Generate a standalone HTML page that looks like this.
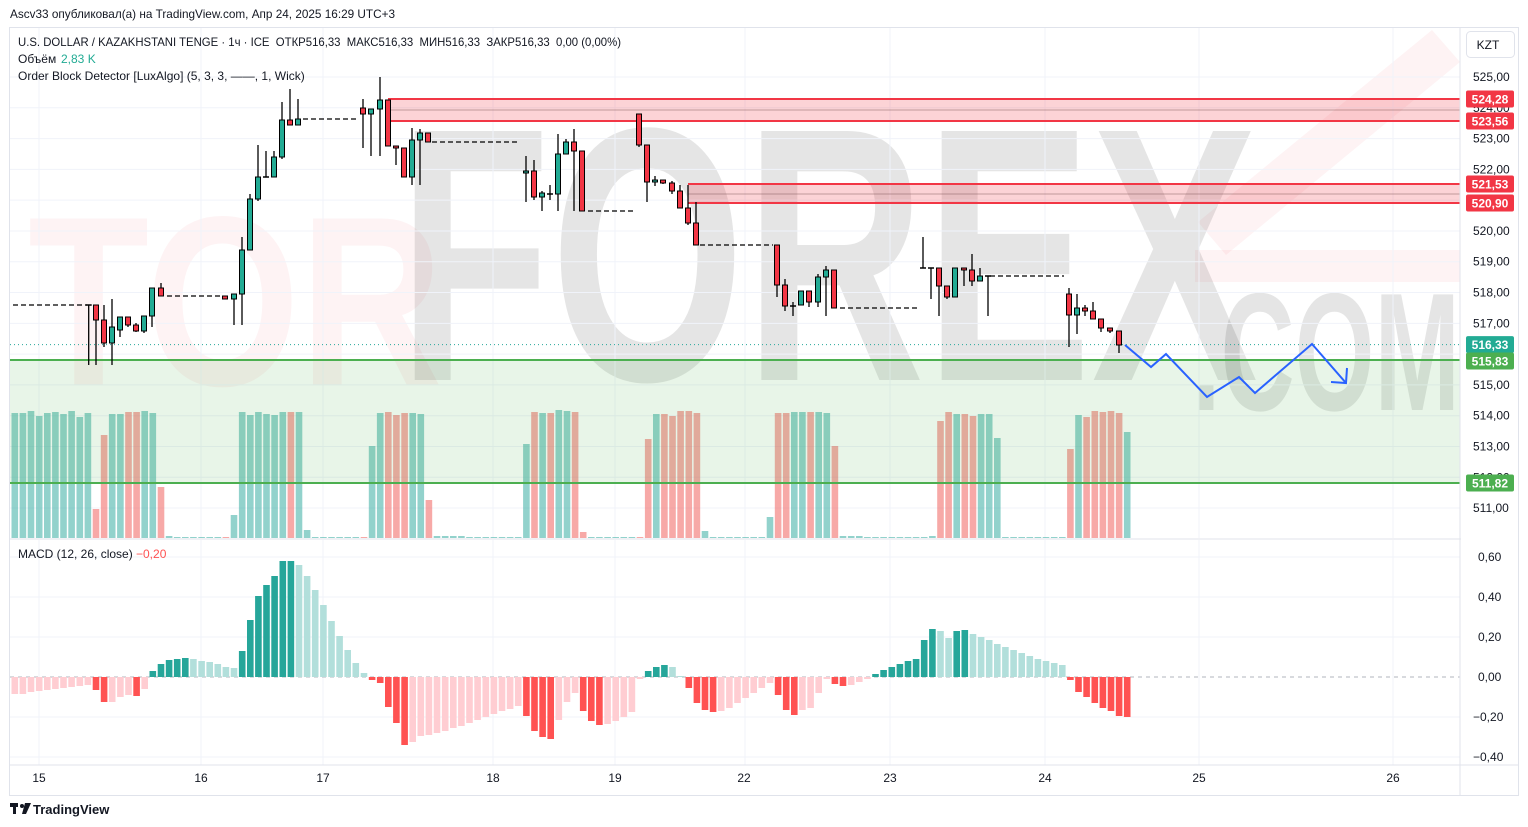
<!DOCTYPE html>
<html><head><meta charset="utf-8">
<style>
html,body{margin:0;padding:0;background:#fff;}
body{width:1528px;height:827px;overflow:hidden;position:relative;font-family:"Liberation Sans",sans-serif;}
svg{position:absolute;left:0;top:0;}
</style></head>
<body>
<svg id="c" width="1528" height="827" viewBox="0 0 1528 827" xmlns="http://www.w3.org/2000/svg" font-family="Liberation Sans, sans-serif"></svg>
<script>
var s='';
function R(x,y,w,h,f,extra){s+='<rect x="'+x+'" y="'+y+'" width="'+w+'" height="'+h+'" fill="'+f+'" '+(extra||'')+'/>';}
function L(x1,y1,x2,y2,c,w,extra){s+='<line x1="'+x1+'" y1="'+y1+'" x2="'+x2+'" y2="'+y2+'" stroke="'+c+'" stroke-width="'+w+'" '+(extra||'')+'/>';}
function T(x,y,t,sz,f,extra){s+='<text x="'+x+'" y="'+y+'" font-size="'+sz+'" fill="'+f+'" '+(extra||'')+'>'+t+'</text>';}
R(9.5,27.5,1509,768,'#fff','stroke="#e0e3eb" stroke-width="1"');
// watermark
s+='<path d="M1195 250 L1460 250 L1460 282 L1195 282 Z" fill="rgba(242,54,69,0.06)"/>';
s+='<path d="M1198 222 L1432 30 L1460 62 L1226 255 Z" fill="rgba(242,54,69,0.06)"/>';
T(28,385,'TOR',242,'rgba(242,54,69,0.06)','font-weight="bold" textLength="415" lengthAdjust="spacingAndGlyphs"');
T(398,380,'FOREX',362,'rgba(0,0,0,0.10)','font-weight="bold" textLength="860" lengthAdjust="spacingAndGlyphs"');
T(1192,410,'.COM',168,'rgba(0,0,0,0.10)','font-weight="bold" textLength="268" lengthAdjust="spacingAndGlyphs"');
var days=[39,201,323,493,615,745,890,1045,1199,1393];
days.forEach(function(x){L(x,28,x,538,'#f0f3fa',1);L(x,540,x,765,'#f0f3fa',1);});
function py(p){return 77+(525-p)*30.79;}
for(var p=511;p<=525;p++){var y=py(p);L(10,y,1460,y,'#f0f3fa',1);}
[557,597,637,717,757].forEach(function(y){L(10,y,1460,y,'#f0f3fa',1);});
var V=[[125,'t'],[125,'t'],[127,'t'],[122,'t'],[125,'t'],[126,'t'],[124,'t'],[127,'t'],[121,'t'],[125,'t'],
[29,'r'],[103,'r'],[124,'t'],[124,'t'],[126,'r'],[126,'r'],[127,'t'],[125,'t'],[51,'r'],[2,'t'],
[1,'t'],[1,'t'],[1,'t'],[1,'t'],[1,'t'],[1,'t'],[1,'r'],[23,'t'],[126,'t'],[123,'t'],
[126,'t'],[124,'t'],[123,'t'],[126,'t'],[126,'r'],[126,'t'],[8,'t'],[1,'t'],[1,'t'],[1,'t'],
[1,'t'],[1,'t'],[1,'t'],[1,'r'],[92,'t'],[125,'t'],[126,'r'],[123,'r'],[125,'r'],[125,'t'],
[124,'t'],[38,'r'],[2,'t'],[2,'t'],[2,'t'],[2,'t'],[1,'t'],[1,'t'],[1,'t'],[1,'t'],
[1,'t'],[1,'t'],[1,'t'],[94,'t'],[126,'r'],[125,'t'],[125,'r'],[128,'t'],[127,'t'],[126,'r'],
[6,'r'],[1,'t'],[1,'t'],[1,'t'],[1,'t'],[1,'t'],[1,'t'],[1,'r'],[99,'r'],[124,'t'],
[124,'r'],[122,'r'],[127,'r'],[127,'r'],[125,'r'],[7,'t'],[1,'t'],[1,'t'],[1,'t'],[1,'t'],
[1,'t'],[1,'t'],[1,'t'],[21,'t'],[125,'r'],[125,'r'],[126,'t'],[126,'t'],[126,'r'],[126,'t'],
[125,'t'],[92,'r'],[2,'t'],[2,'t'],[2,'t'],[1,'t'],[1,'t'],[1,'t'],[1,'t'],[1,'t'],
[1,'t'],[1,'t'],[1,'t'],[2,'t'],[117,'r'],[126,'r'],[124,'t'],[124,'r'],[122,'r'],[124,'t'],
[124,'t'],[100,'t'],[1,'t'],[1,'t'],[1,'t'],[1,'t'],[1,'t'],[1,'t'],[1,'t'],[1,'t'],
[89,'r'],[123,'t'],[121,'r'],[127,'r'],[126,'r'],[127,'r'],[125,'r'],[106,'t']];
function bx(i){return 14.8+8.12*i;}
V.forEach(function(v,i){R((bx(i)-3.3).toFixed(1),(538-v[0]).toFixed(1),6.6,v[0],v[1]=='t'?'rgba(38,166,154,0.5)':'rgba(239,83,80,0.5)');});
R(10,360,1450,123,'rgba(76,175,80,0.13)');
L(10,360,1460,360,'#4caf50',2);L(10,483,1460,483,'#4caf50',2);
R(388,99,1072,22,'rgba(242,54,69,0.22)');L(388,110,1460,110,'rgba(120,80,80,0.45)',1);
L(388,99,1460,99,'#f23645',2);L(388,121,1460,121,'#f23645',2);
R(688,184,772,19,'rgba(242,54,69,0.22)');L(688,194,1460,194,'rgba(120,80,80,0.45)',1);
L(688,184,1460,184,'#f23645',2);L(688,203,1460,203,'#f23645',2);
L(10,344.6,1460,344.6,'#26a69a',1,'stroke-dasharray="1 3"');
[[13,87,305],[167,222,296],[303,358,119],[432,520,142],[588,634,211],[700,773,245],[840,918,308],[990,1064,276]].forEach(function(d){L(d[0],d[2],d[1],d[2],'#000',1.3,'stroke-dasharray="5 3"');});
var C=[[88.7,305,305,305,365,'d'],[96,305,320,305,365,'r'],[104,320,343,305,347,'r'],[112,327,343,299,365,'g'],[120,317,330,317,337,'g'],[128,317,325,317,327,'r'],[136,325,331,323,332,'r'],[144,316,331,316,333,'g'],[152,288,316,288,327,'g'],[161,288,296,283,296,'r'],
[225,296,299,296,299,'r'],[234,294,299,294,325,'g'],[242,250,294,237,325,'g'],[250,199,250,194,250,'g'],[258,177,199,145,201,'g'],[266,177,177,151,177,'d'],[274,157,177,151,177,'g'],[282,120,157,102,159,'g'],[290,120,125,89,125,'r'],[298,119,125,99,125,'g'],
[363,108,114,99,148,'r'],[371,109,114,109,156,'g'],[380,100,109,77,156,'g'],[388,100,146,100,146,'r'],[396,146,148,146,165,'r'],[404,148,177,148,177,'r'],[412,140,177,128,185,'g'],[420,133,140,129,185,'g'],[428,133,142,133,142,'r'],
[526,171,173,156,202,'g'],[534,171,197,160,200,'r'],[542,193,197,191,211,'g'],[550,194,194,185,200,'d'],[558,154,194,134,211,'g'],[566,142,154,139,154,'g'],[574,142,151,129,211,'r'],[582,151,211,151,211,'r'],
[639,114,145,114,147,'r'],[647,145,182,145,202,'r'],[655,180,182,176,186,'g'],[663,180,183,180,184,'r'],[672,183,191,181,194,'r'],[680,191,208,185,208,'r'],[688,208,223,185,225,'r'],[696,223,245,202,245,'r'],
[777,245,285,245,297,'r'],[785,285,306,279,311,'r'],[793,306,306,302,316,'d'],[801,291,305,291,305,'g'],[809,291,302,291,307,'r'],[818,277,302,274,307,'g'],[826,270,277,266,316,'g'],[834,270,308,270,308,'r'],
[923,268,268,237,268,'d'],[931,268,268,268,299,'d'],[939,268,286,268,316,'r'],[947,286,297,286,299,'r'],[955,268,297,268,297,'g'],[964,268,270,268,286,'r'],[972,270,281,254,286,'r'],[980,276,281,268,281,'g'],[988,276,276,276,316,'d'],
[1069,294,315,288,347,'r'],[1077,308,315,294,334,'g'],[1085,308,311,305,316,'r'],[1093,311,319,302,319,'r'],[1101,319,328,319,332,'r'],[1110,328,331,328,333,'r'],[1119,331,345,331,353,'r']];
C.forEach(function(c){
 L(c[0],c[3],c[0],c[4],'#000',1.3);
 if(c[5]=='d'){L(c[0]-3,c[1],c[0]+3,c[1],'#000',1.5);}
 else{R(c[0]-2.5,c[1],5,Math.max(c[2]-c[1],2),c[5]=='g'?'#22ab94':'#f23645','stroke="#000" stroke-width="1"');}
});
s+='<polyline points="1125,345 1151,367 1166,354 1207,397 1239,377 1255,393 1312,344 1346,383" fill="none" stroke="#2962ff" stroke-width="2"/>';
s+='<polyline points="1331,382 1346,383 1347,368" fill="none" stroke="#2962ff" stroke-width="2"/>';
L(10,539,1518,539,'#e0e3eb',1);
var M=[[-17,'P'],[-17,'P'],[-15,'P'],[-14,'P'],[-13,'P'],[-12,'P'],[-11,'P'],[-10,'P'],[-9,'P'],[-8,'P'],[-13,'R'],[-25,'R'],[-25,'P'],[-20,'P'],[-18,'P'],[-19,'R'],[-12,'P'],[6,'D'],[13,'D'],[17,'D'],[18,'D'],[19,'D'],[18,'L'],[16,'L'],[15,'L'],[13,'L'],[10,'L'],[9,'L'],[26,'D'],[57,'D'],[81,'D'],[92,'D'],[101,'D'],[116,'D'],[116,'D'],[112,'L'],[101,'L'],[87,'L'],[72,'L'],[56,'L'],[41,'L'],[27,'L'],[14,'L'],[4,'L'],[-3,'R'],[-6,'R'],[-30,'R'],[-46,'R'],[-68,'R'],[-65,'P'],[-59,'P'],[-58,'P'],[-56,'P'],[-54,'P'],[-51,'P'],[-49,'P'],[-46,'P'],[-43,'P'],[-40,'P'],[-37,'P'],[-34,'P'],[-32,'P'],[-29,'P'],[-39,'R'],[-54,'R'],[-60,'R'],[-62,'R'],[-43,'P'],[-25,'P'],[-16,'P']];
var M2=[-34,-44,-48,-47,-44,-40,-35,-2,6,10,12,10,1,-11,-26,-33,-35,-34,-31,-26,-21,-16,-11,-6,-18,-33,-38,-33,-31,-16,-2,-7,-9,-8,-5,-2,3,7,10,13,16,18,37,48,46,39,46,47,43,40,37,33,30,27,24,21,18,16,14,12,-3,-15,-20,-26,-31,-34,-39,-40];
var C2='RRR'+'PPPP'+'P'+'DDD'+'LL'+'RRRR'+'PPPPPPP'+'RRR'+'PPPP'+'RR'+'PPP'+'DDDDDDDD'+'LL'+'DD'+'LLLLLLLLLLLL'+'RRRRRRRR';
M2.forEach(function(v,k){M.push([v,C2[k]||'R']);});
var col={D:'#26a69a',L:'#b2dfdb',R:'#ff5252',P:'#ffcdd2'};
L(10,677,1460,677,'#b2b5be',1,'stroke-dasharray="4 4"');
M.forEach(function(m,i){var h=Math.abs(m[0]);var y=m[0]>0?677-h:677;R((bx(i)-3.3).toFixed(1),y,6.6,Math.max(h,1),col[m[1]]);});
R(1461,28,57,767,'#fff');
L(1460,28,1460,795,'#e0e3eb',1);
var pl=[[525,'525,00'],[524,'524,00'],[523,'523,00'],[522,'522,00'],[521,'521,00'],[520,'520,00'],[519,'519,00'],[518,'518,00'],[517,'517,00'],[515,'515,00'],[514,'514,00'],[513,'513,00'],[512,'512,00'],[511,'511,00']];
pl.forEach(function(a){T(1473,py(a[0])+4,a[1],12,'#131722');});
[[0.6,'0,60'],[0.4,'0,40'],[0.2,'0,20'],[0,'0,00'],[-0.2,'−0,20'],[-0.4,'−0,40']].forEach(function(a){T(a[0]<0?1473:1478,677-a[0]*200+4,a[1],12,'#131722');});
function badge(y,t,c){R(1466,y-8.5,48,17,c,'rx="2"');T(1490,y+4.5,t,12,'#fff','text-anchor="middle" font-weight="bold"');}
badge(99,'524,28','#f23645');badge(121,'523,56','#f23645');badge(184,'521,53','#f23645');badge(203,'520,90','#f23645');
badge(344.6,'516,33','#22ab94');badge(361,'515,83','#4caf50');badge(483,'511,82','#4caf50');
R(1466.5,31.5,48,26,'#fff','rx="4" stroke="#e0e3eb"');T(1488,49,'KZT',12,'#131722','text-anchor="middle"');
L(10,765,1518,765,'#e0e3eb',1);
[[39,'15'],[201,'16'],[323,'17'],[493,'18'],[615,'19'],[744,'22'],[890,'23'],[1045,'24'],[1199,'25'],[1393,'26']].forEach(function(a){T(a[0],782,a[1],12,'#131722','text-anchor="middle"');});
T(10,18,'Ascv33 опубликовал(а) на TradingView.com, Апр 24, 2025 16:29 UTC+3',12,'#131722','textLength="385" lengthAdjust="spacingAndGlyphs"');
T(18,46,'U.S. DOLLAR / KAZAKHSTANI TENGE · 1ч · ICE  ОТКР516,33  МАКС516,33  МИН516,33  ЗАКР516,33  0,00 (0,00%)',12,'#131722','xml:space="preserve" textLength="603" lengthAdjust="spacingAndGlyphs"');
T(18,63,'Объём',12,'#131722');T(61,63,'2,83 K',12,'#22ab94');
T(18,80,'Order Block Detector [LuxAlgo] (5, 3, 3, ——, 1, Wick)',12,'#131722');
T(18,558,'MACD (12, 26, close)',12,'#131722');T(136,558,'−0,20',12,'#ff5252');
s+='<g transform="translate(10,803)"><rect x="0" y="0" width="8" height="4" fill="#131722"/><rect x="3" y="4" width="3" height="7" fill="#131722"/><circle cx="12" cy="3" r="2" fill="#131722"/><path d="M15 0 L21 0 L16 11 L12 11 Z" fill="#131722"/></g>';
T(33,814,'TradingView',13,'#131722','font-weight="bold"');
document.getElementById('c').innerHTML=s;
</script>
</body></html>
